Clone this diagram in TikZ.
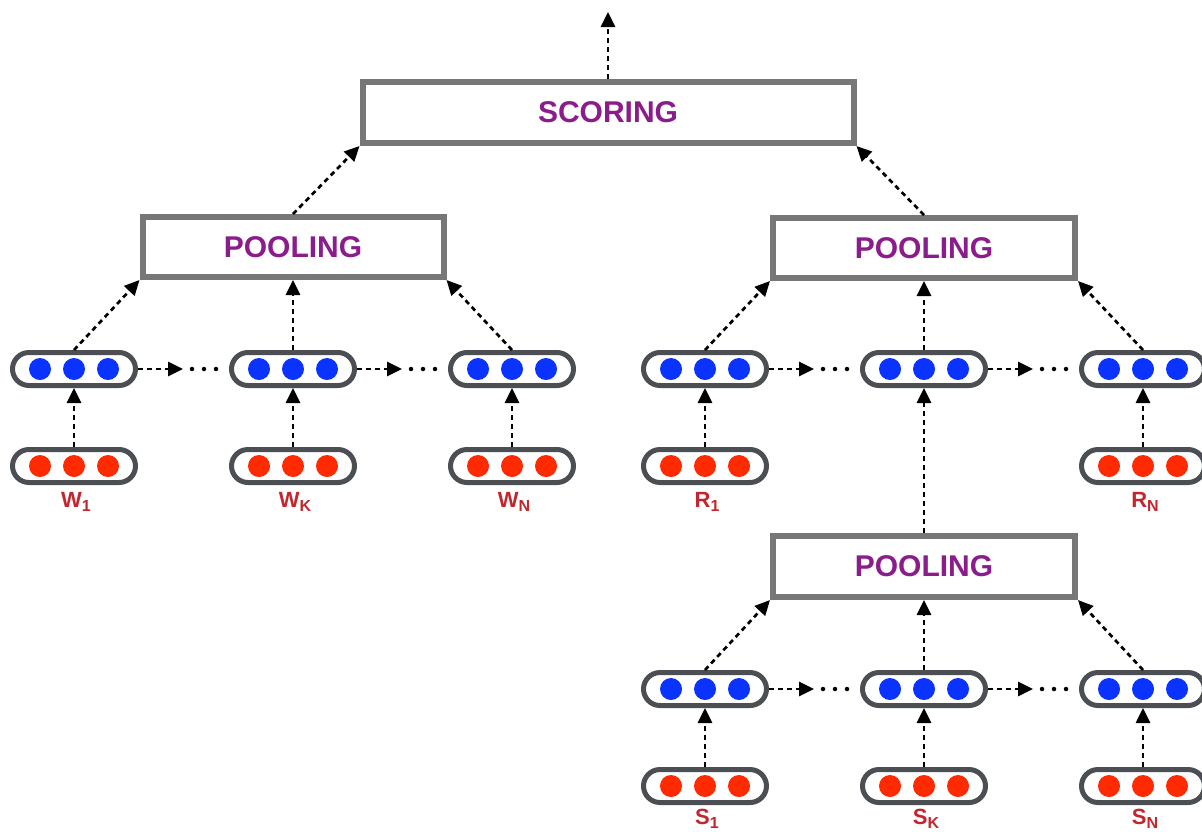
\documentclass[tikz,border=0pt]{standalone}
\usepackage{fontspec}
\setmainfont{Liberation Sans}
\usetikzlibrary{arrows.meta,calc}

\definecolor{boxgray}{HTML}{777777}
\definecolor{capgray}{HTML}{4B4F54}
\definecolor{hidblue}{HTML}{0A33FF}
\definecolor{embred}{HTML}{FF2A00}
\definecolor{lblred}{HTML}{C2262E}
\definecolor{ttlpurple}{HTML}{8B1C8B}

\newcommand\lowidx[1]{\raisebox{-4pt}{\fontsize{16}{16}\selectfont #1}}
% capsule: name, x, y, dot colour
\newcommand\capsule[4]{%
  \node[capsule] (#1) at (#2,#3) {};
  \foreach \dx in {-34,0,34}
    \fill[#4] ([xshift=\dx pt]#1.center) circle[radius=11pt];
}

\begin{document}
\begin{tikzpicture}[x=1pt,y=-1pt,
  capsule/.style={draw=capgray, line width=5pt, rounded corners=16.5pt,
    minimum width=123pt, minimum height=33pt, inner sep=0pt},
  layerbox/.style={draw=boxgray, line width=6pt, fill=white, inner sep=0pt,
    minimum height=60pt, text=ttlpurple,
    font=\fontsize{30}{32}\selectfont\bfseries},
  conn/.style={line width=2.7pt, dash pattern=on 5pt off 4pt,
    -{Triangle[length=15pt,width=14pt]}},
  dotrow/.style={line width=4.5pt, line cap=round, dash pattern=on 0pt off 12pt},
  lbl/.style={anchor=base, inner sep=0pt, text=lblred,
    font=\fontsize{22}{24}\selectfont\bfseries}]

\useasboundingbox (0,0) rectangle (1202,831);

% layer boxes
\node[layerbox, minimum width=491pt, minimum height=61pt] (score) at (608,112.5) {SCORING};
\node[layerbox, minimum width=301pt] (poolW) at (293,247) {POOLING};
\node[layerbox, minimum width=302pt] (poolR) at (924,248) {POOLING};
\node[layerbox, minimum width=302pt, minimum height=61pt] (poolS) at (924,566.5) {POOLING};

% word branch
\capsule{wb1}{74}{369}{hidblue}
\capsule{wbk}{293}{369}{hidblue}
\capsule{wbn}{512}{369}{hidblue}
\capsule{wr1}{74}{466}{embred}
\capsule{wrk}{293}{466}{embred}
\capsule{wrn}{512}{466}{embred}
\node[lbl] (lw1) at (76,507) {W\lowidx{1}};
\node[lbl] (lwk) at (295,507) {W\lowidx{K}};
\node[lbl] (lwn) at (514,507) {W\lowidx{N}};

% review branch
\capsule{rb1}{705}{369}{hidblue}
\capsule{rbk}{924}{369}{hidblue}
\capsule{rbn}{1143}{369}{hidblue}
\capsule{rr1}{705}{466}{embred}
\capsule{rrn}{1143}{466}{embred}
\node[lbl] (lr1) at (707,507) {R\lowidx{1}};
\node[lbl] (lrn) at (1145,507) {R\lowidx{N}};

% sentence branch
\capsule{sb1}{705}{689}{hidblue}
\capsule{sbk}{924}{689}{hidblue}
\capsule{sbn}{1143}{689}{hidblue}
\capsule{sr1}{705}{786}{embred}
\capsule{srk}{924}{786}{embred}
\capsule{srn}{1143}{786}{embred}
\node[lbl] (ls1) at (707,824) {S\lowidx{1}};
\node[lbl] (lsk) at (926,824) {S\lowidx{K}};
\node[lbl] (lsn) at (1145,824) {S\lowidx{N}};

% embeddings to hidden states
\foreach \a/\b in {wr1/wb1, wrk/wbk, wrn/wbn, rr1/rb1, rrn/rbn,
                   sr1/sb1, srk/sbk, srn/sbn}
  \draw[conn] (\a.north) -- (\b.south);

% recurrent links between hidden states
\foreach \a/\b [count=\i] in {wb1/wbk, wbk/wbn, rb1/rbk, rbk/rbn, sb1/sbk, sbk/sbn} {
  \coordinate (h\i) at ($(\a.east)+(45,0)$);
  \draw[conn] (\a.east) -- (h\i);
  \draw[dotrow] ($(h\i)+(9,0)$) -- ($(h\i)+(33.5,0)$);
}

% hidden states to pooling
\draw[conn] (wb1.north) -- (poolW.south west);
\draw[conn] (wbk.north) -- (poolW.south);
\draw[conn] (wbn.north) -- (poolW.south east);
\draw[conn] (rb1.north) -- (poolR.south west);
\draw[conn] (rbk.north) -- (poolR.south);
\draw[conn] (rbn.north) -- (poolR.south east);
\draw[conn] (sb1.north) -- (poolS.south west);
\draw[conn] (sbk.north) -- (poolS.south);
\draw[conn] (sbn.north) -- (poolS.south east);

% sentence pooling feeds the middle review state
\draw[conn] (poolS.north) -- (rbk.south);

% pooling to scoring
\draw[conn] (poolW.north) -- (score.south west);
\draw[conn] (poolR.north) -- (score.south east);

% output
\coordinate (out) at (608,12);
\draw[conn] (score.north) -- (out);

\end{tikzpicture}
\end{document}
